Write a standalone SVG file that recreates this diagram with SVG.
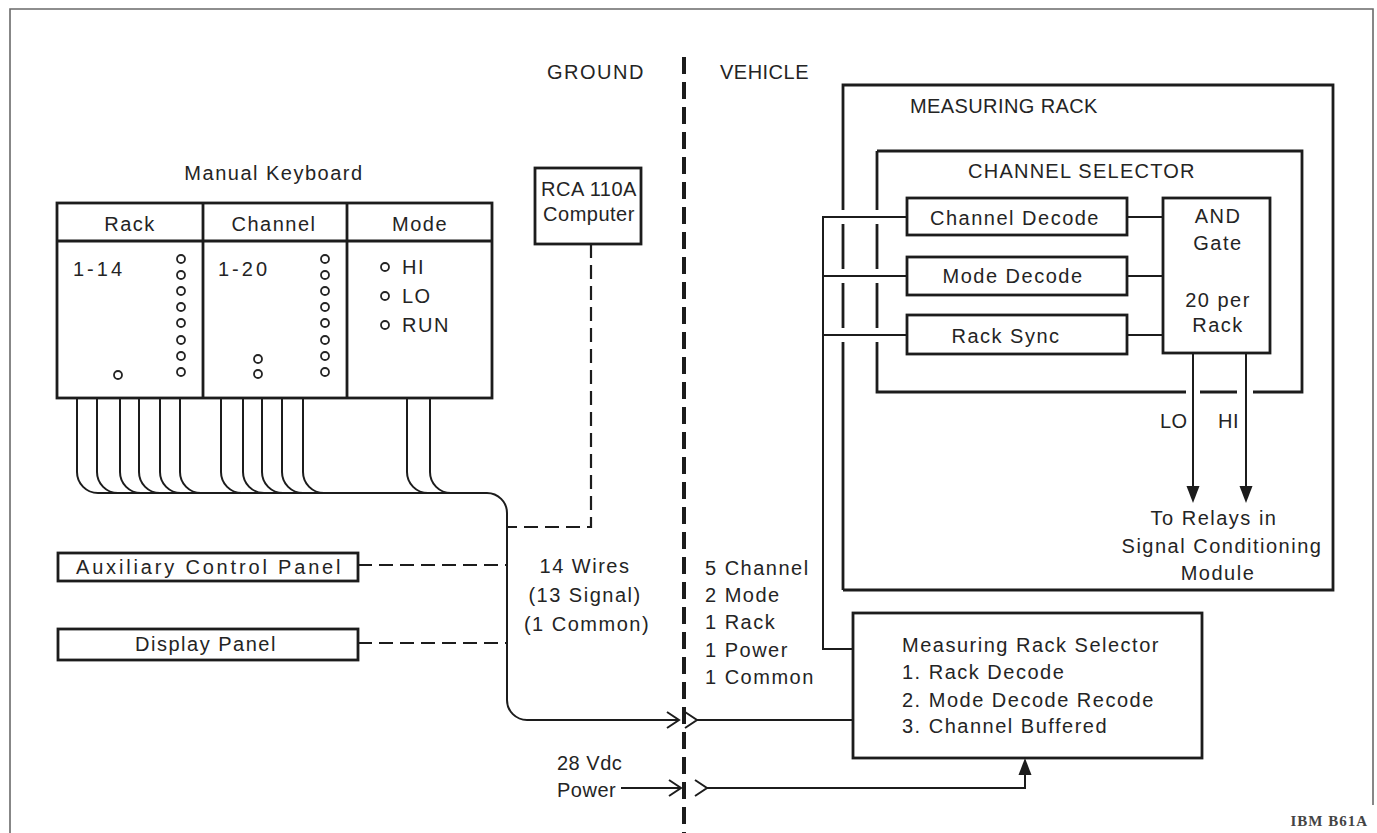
<svg xmlns="http://www.w3.org/2000/svg" width="1377" height="833" viewBox="0 0 1377 833">
<style>
text{font-family:"Liberation Sans",Arial,sans-serif;font-size:20px;letter-spacing:1.5px;fill:#242424}
.m{text-anchor:middle}
.box{fill:none;stroke:#1c1c1c;stroke-width:2.8}
.ln{fill:none;stroke:#1c1c1c;stroke-width:2}
.dash{fill:none;stroke:#1c1c1c;stroke-width:2.2;stroke-dasharray:14 7}
.key{fill:none;stroke:#242424;stroke-width:1.8}
.frame{fill:none;stroke:#6a6a6a;stroke-width:1.6}
.tag{font-family:"Liberation Serif","Times New Roman",serif;font-size:15px;letter-spacing:1px;font-weight:bold;fill:#444}
</style>
<defs>
<marker id="fa" markerUnits="userSpaceOnUse" markerWidth="18" markerHeight="14" refX="0" refY="6.5" orient="auto" overflow="visible">
<path d="M0,0 L17,6.5 L0,13 Z" fill="#1c1c1c"/>
</marker>
<marker id="oa" markerUnits="userSpaceOnUse" markerWidth="14" markerHeight="18" refX="12" refY="8" orient="auto" overflow="visible">
<path d="M0,0 L12,8 L0,16" fill="none" stroke="#1c1c1c" stroke-width="2"/>
</marker>
</defs>
<rect width="1377" height="833" fill="#fff"/>
<path class="frame" d="M10,833 V9 H1373 V805"/>
<path d="M684,57 V833" fill="none" stroke="#1c1c1c" stroke-width="4" stroke-dasharray="17 8"/>
<text x="547" y="79">GROUND</text>
<text x="720" y="79" textLength="90">VEHICLE</text>

<g id="keyboard">
<text class="m" x="274" y="180">Manual Keyboard</text>
<rect class="box" x="57" y="203" width="435" height="195"/>
<path class="box" d="M57,241 H492 M203,203 V398 M347,203 V398"/>
<text class="m" x="130" y="231">Rack</text>
<text class="m" x="274" y="231">Channel</text>
<text class="m" x="420" y="231">Mode</text>
<text x="73" y="276" style="letter-spacing:3px">1-14</text>
<text x="218" y="276" style="letter-spacing:3px">1-20</text>
<g class="key">
<circle cx="181" cy="259" r="4"/><circle cx="181" cy="275" r="4"/><circle cx="181" cy="291" r="4"/><circle cx="181" cy="307" r="4"/><circle cx="181" cy="323" r="4"/><circle cx="181" cy="340" r="4"/><circle cx="181" cy="356" r="4"/><circle cx="181" cy="372" r="4"/>
<circle cx="118" cy="375" r="4"/>
<circle cx="325" cy="259" r="4"/><circle cx="325" cy="275" r="4"/><circle cx="325" cy="291" r="4"/><circle cx="325" cy="307" r="4"/><circle cx="325" cy="323" r="4"/><circle cx="325" cy="340" r="4"/><circle cx="325" cy="356" r="4"/><circle cx="325" cy="372" r="4"/>
<circle cx="258" cy="359" r="4"/><circle cx="258" cy="374" r="4"/>
<circle cx="385" cy="267" r="4"/><circle cx="385" cy="296" r="4"/><circle cx="385" cy="325" r="4"/>
</g>
<text x="402" y="274">HI</text>
<text x="402" y="303">LO</text>
<text x="402" y="332">RUN</text>
</g>

<g id="computer">
<rect class="box" x="535" y="168" width="106" height="76"/>
<text class="m" x="589" y="196" style="letter-spacing:0.5px">RCA 110A</text>
<text class="m" x="589" y="221" style="letter-spacing:0.5px">Computer</text>
</g>

<g id="aux-panel">
<rect class="box" x="58" y="553" width="300" height="28"/>
<text x="76" y="574" textLength="266">Auxiliary Control Panel</text>
</g>
<g id="display-panel">
<rect class="box" x="58" y="629" width="300" height="31"/>
<text class="m" x="206" y="651">Display Panel</text>
</g>

<g id="wire-labels">
<text class="m" x="585" y="573">14 Wires</text>
<text class="m" x="585" y="602">(13 Signal)</text>
<text class="m" x="587" y="631">(1 Common)</text>
<text x="705" y="575">5 Channel</text>
<text x="705" y="602">2 Mode</text>
<text x="705" y="629">1 Rack</text>
<text x="705" y="657">1 Power</text>
<text x="705" y="684">1 Common</text>
<text x="557" y="770" style="letter-spacing:0.5px">28 Vdc</text>
<text x="557" y="797" style="letter-spacing:0.5px">Power</text>
</g>

<g id="measuring-rack">
<path class="box" d="M843,590 H1333 V85 H843 V210 M843,224 V269 M843,283 V328 M843,342 V590"/>
<text x="910" y="113" style="letter-spacing:0.4px">MEASURING RACK</text>
</g>
<g id="channel-selector">
<path class="box" d="M877,151 H1302 V392 H1253 M1237,392 H1200 M1186,392 H877 V342 M877,328 V283 M877,269 V224 M877,210 V151"/>
<text x="968" y="178" textLength="228">CHANNEL SELECTOR</text>
</g>
<g id="channel-decode">
<rect class="box" x="907" y="198" width="220" height="37"/>
<text class="m" x="1015" y="225">Channel Decode</text>
</g>
<g id="mode-decode">
<rect class="box" x="907" y="257" width="220" height="38"/>
<text class="m" x="1013" y="283">Mode Decode</text>
</g>
<g id="rack-sync">
<rect class="box" x="907" y="315" width="220" height="39"/>
<text class="m" x="1006" y="343">Rack Sync</text>
</g>
<g id="and-gate">
<rect class="box" x="1163" y="198" width="107" height="155"/>
<text class="m" x="1218" y="223">AND</text>
<text class="m" x="1218" y="250">Gate</text>
<text class="m" x="1218" y="307">20 per</text>
<text class="m" x="1218" y="332">Rack</text>
</g>
<g id="relays-label">
<text x="1160" y="428" style="letter-spacing:0.5px">LO</text>
<text x="1218" y="428" style="letter-spacing:0.5px">HI</text>
<text class="m" x="1214" y="525">To Relays in</text>
<text class="m" x="1222" y="553">Signal Conditioning</text>
<text class="m" x="1218" y="580">Module</text>
</g>
<g id="rack-selector">
<rect class="box" x="853" y="613" width="349" height="145"/>
<text x="902" y="652">Measuring Rack Selector</text>
<text x="902" y="679">1. Rack Decode</text>
<text x="902" y="707">2. Mode Decode Recode</text>
<text x="902" y="733">3. Channel Buffered</text>
</g>

<g id="connectors">
<path class="ln" d="M77,398 V472 A21,21 0 0 0 98,493 M97,398 V472 A21,21 0 0 0 118,493 M120,398 V472 A21,21 0 0 0 141,493 M139,398 V472 A21,21 0 0 0 160,493 M160,398 V472 A21,21 0 0 0 181,493 M180,398 V472 A21,21 0 0 0 201,493 M221,398 V472 A21,21 0 0 0 242,493 M243,398 V472 A21,21 0 0 0 264,493 M262,398 V472 A21,21 0 0 0 283,493 M282,398 V472 A21,21 0 0 0 303,493 M303,398 V472 A21,21 0 0 0 324,493 M407,398 V472 A21,21 0 0 0 428,493 M430,398 V472 A21,21 0 0 0 451,493"/>
<path class="ln" d="M98,493 H487 A20,20 0 0 1 507,513 V700 A20,20 0 0 0 527,720 H679" marker-end="url(#oa)"/>
<path class="ln" d="M697,720 H853" marker-start="url(#oa)"/>
<path class="ln" d="M621,788 H681" marker-end="url(#oa)"/>
<path class="ln" d="M707,788 H1025 V775" marker-start="url(#oa)" marker-end="url(#fa)"/>
<path class="dash" d="M591,244 V527 H507"/>
<path class="dash" d="M358,565 H507"/>
<path class="dash" d="M358,643 H507"/>
<path class="ln" d="M907,217 H823 V649 H853 M823,276 H907 M823,335 H907"/>
<path class="ln" d="M1127,217 H1163 M1127,276 H1163 M1127,335 H1163"/>
<path class="ln" d="M1193,353 V486" marker-end="url(#fa)"/>
<path class="ln" d="M1246,353 V486" marker-end="url(#fa)"/>
</g>
<text class="tag" x="1368" y="826" text-anchor="end">IBM B61A</text>
</svg>
